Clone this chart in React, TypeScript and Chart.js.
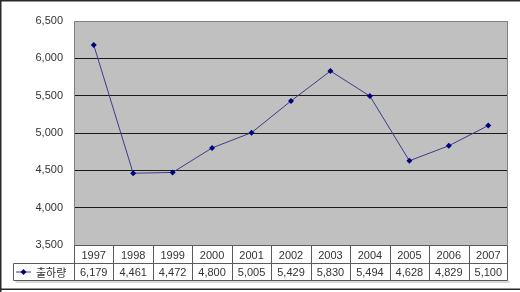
import React, { useEffect, useRef } from "react";
import { Chart, registerables } from "chart.js";

Chart.register(...registerables);

const years = ["1997", "1998", "1999", "2000", "2001", "2002", "2003", "2004", "2005", "2006", "2007"];
const shipments = [6179, 4461, 4472, 4800, 5005, 5429, 5830, 5494, 4628, 4829, 5100];
const seriesName = "출하량";
const yMin = 3500;
const yMax = 6500;
const yStep = 500;

const fmt = (v: number) => v.toLocaleString("en-US");

const LINE_COLOR = "#3c3c8c";
const MARK_COLOR = "#000080";
const TEXT_COLOR = "#333333";
const TABLE_LINE = "#5a5a5a";

const plotBg = {
  id: "plotBg",
  beforeDraw(chart: any) {
    const { ctx, chartArea: a } = chart;
    ctx.save();
    ctx.fillStyle = "#ffffff";
    ctx.fillRect(0, 0, chart.width, chart.height);
    ctx.fillStyle = "#c0c0c0";
    ctx.fillRect(a.left, a.top, a.right - a.left, a.bottom - a.top);
    ctx.restore();
  },
  beforeDatasetsDraw(chart: any) {
    const { ctx, chartArea: a } = chart;
    ctx.save();
    ctx.strokeStyle = "#808080";
    ctx.lineWidth = 1;
    ctx.beginPath();
    ctx.moveTo(Math.round(a.left) + 0.5, a.bottom);
    ctx.lineTo(Math.round(a.left) + 0.5, Math.round(a.top) + 0.5);
    ctx.lineTo(Math.round(a.right) - 0.5, Math.round(a.top) + 0.5);
    ctx.lineTo(Math.round(a.right) - 0.5, a.bottom);
    ctx.stroke();
    ctx.restore();
  },
};

const dataTable = {
  id: "dataTable",
  afterDraw(chart: any) {
    const { ctx, chartArea: a } = chart;
    const x = chart.scales.x;
    const n = years.length;
    const r1Top = Math.round(a.bottom) + 0.5;
    const r1Bot = r1Top + 18;
    const r2Bot = r1Bot + 17;
    const legendLeft = 13.5;
    const right = Math.round(a.right) - 0.5;
    ctx.save();
    ctx.fillStyle = "#ffffff";
    ctx.fillRect(a.left, r1Top, a.right - a.left, r1Bot - r1Top);
    ctx.fillRect(legendLeft, r1Bot, a.right - legendLeft, r2Bot - r1Bot);
    // light shadow
    ctx.fillStyle = "#d8d8d8";
    ctx.fillRect(legendLeft + 2, r2Bot + 0.5, right - legendLeft, 2);

    ctx.strokeStyle = TABLE_LINE;
    ctx.lineWidth = 1;
    ctx.beginPath();
    ctx.moveTo(a.left, r1Top);
    ctx.lineTo(right, r1Top);
    ctx.moveTo(legendLeft, r1Bot);
    ctx.lineTo(right, r1Bot);
    ctx.moveTo(legendLeft, r2Bot);
    ctx.lineTo(right, r2Bot);
    ctx.moveTo(legendLeft, r1Bot);
    ctx.lineTo(legendLeft, r2Bot);
    for (let i = 0; i <= n; i++) {
      let bx = Math.round(x.getPixelForValue(i - 0.5)) + 0.5;
      if (i === n) bx = right;
      ctx.moveTo(bx, r1Top);
      ctx.lineTo(bx, r2Bot);
    }
    ctx.stroke();

    ctx.fillStyle = TEXT_COLOR;
    ctx.font = '11px "Liberation Sans", Arial, sans-serif';
    ctx.textAlign = "center";
    ctx.textBaseline = "middle";
    for (let i = 0; i < n; i++) {
      const cx = x.getPixelForValue(i);
      ctx.fillText(years[i], cx, (r1Top + r1Bot) / 2 + 1);
      ctx.fillText(fmt(shipments[i]), cx, (r1Bot + r2Bot) / 2 + 1);
    }

    // legend key
    const ly = (r1Bot + r2Bot) / 2;
    ctx.strokeStyle = LINE_COLOR;
    ctx.beginPath();
    ctx.moveTo(16, ly);
    ctx.lineTo(31, ly);
    ctx.stroke();
    ctx.fillStyle = MARK_COLOR;
    ctx.beginPath();
    ctx.moveTo(23.5, ly - 3);
    ctx.lineTo(26.5, ly);
    ctx.lineTo(23.5, ly + 3);
    ctx.lineTo(20.5, ly);
    ctx.closePath();
    ctx.fill();
    ctx.fillStyle = TEXT_COLOR;
    ctx.textAlign = "left";
    ctx.font = '11px "Noto Sans CJK KR", sans-serif';
    ctx.fillText(seriesName, 36, ly + 0.5);

    // outer frame
    ctx.strokeStyle = "#2a2a2a";
    ctx.lineWidth = 1.5;
    ctx.beginPath();
    ctx.moveTo(0.75, chart.height);
    ctx.lineTo(0.75, 0.75);
    ctx.lineTo(chart.width, 0.75);
    ctx.moveTo(0, 289.25);
    ctx.lineTo(chart.width, 289.25);
    ctx.stroke();
    ctx.restore();
  },
};

export default function App() {
  const ref = useRef<HTMLCanvasElement | null>(null);
  useEffect(() => {
    document.body.style.margin = "0";
    if (!ref.current) return;
    const chart = new Chart(ref.current, {
      type: "line",
      data: {
        labels: years,
        datasets: [
          {
            label: seriesName,
            data: shipments,
            borderColor: LINE_COLOR,
            borderWidth: 1,
            backgroundColor: MARK_COLOR,
            pointBackgroundColor: MARK_COLOR,
            pointBorderColor: MARK_COLOR,
            pointBorderWidth: 0,
            pointStyle: "rectRot",
            pointRadius: 3,
            tension: 0,
            fill: false,
          },
        ],
      },
      options: {
        responsive: false,
        animation: false,
        layout: { padding: { left: 8, right: 12, top: 21, bottom: 47 } },
        plugins: { legend: { display: false }, tooltip: { enabled: false } },
        scales: {
          x: { type: "category", offset: true, display: false },
          y: {
            min: yMin,
            max: yMax,
            afterFit: (s: any) => {
              s.width = 66;
            },
            border: { display: false },
            grid: {
              drawTicks: false,
              color: (c: any) =>
                c.tick && (c.tick.value === yMin || c.tick.value === yMax) ? "rgba(0,0,0,0)" : "#1a1a1a",
              lineWidth: 1,
            },
            ticks: {
              stepSize: yStep,
              padding: 11,
              color: TEXT_COLOR,
              font: { family: '"Liberation Sans", Arial, sans-serif', size: 11 },
              callback: (v: any) => fmt(Number(v)),
            },
          },
        },
      },
      plugins: [plotBg, dataTable],
    });
    return () => chart.destroy();
  }, []);
  return <canvas ref={ref} width={520} height={292} style={{ display: "block" }} />;
}
